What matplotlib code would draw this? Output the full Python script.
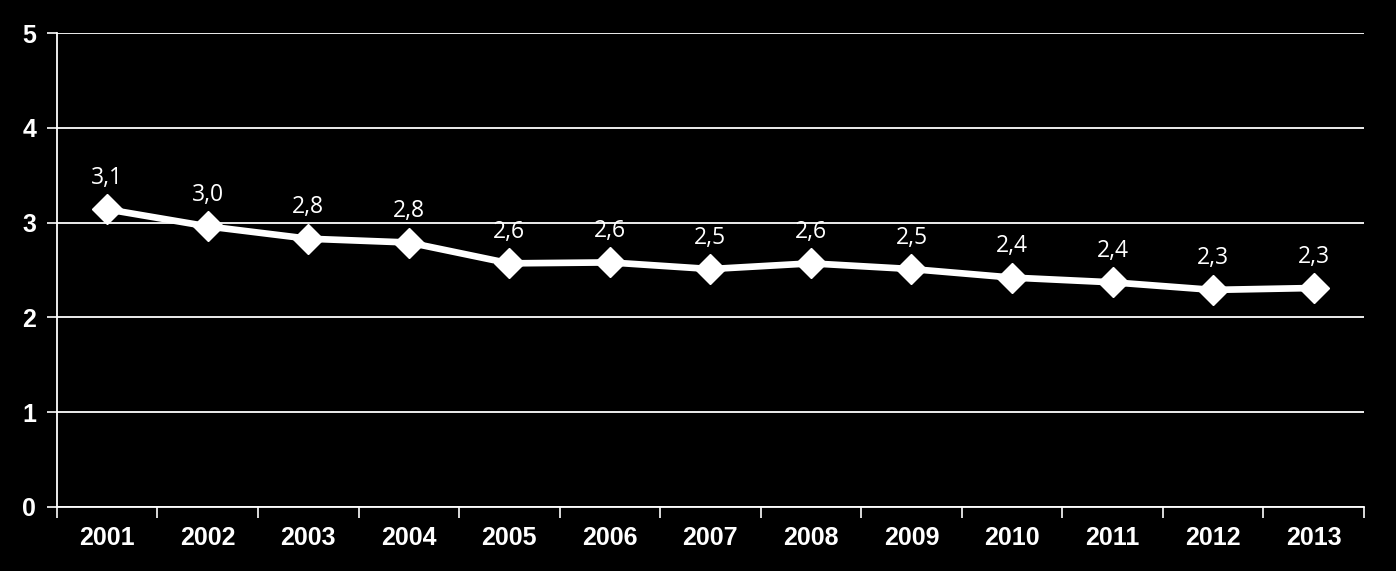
import numpy as np
import matplotlib.pyplot as plt
from matplotlib.ticker import FixedLocator

years = ['2001', '2002', '2003', '2004', '2005', '2006', '2007',
         '2008', '2009', '2010', '2011', '2012', '2013']
values = [3.14, 2.96, 2.83, 2.79, 2.57, 2.58, 2.51, 2.57, 2.51, 2.42, 2.37, 2.29, 2.31]

fig = plt.figure(figsize=(13.96, 5.71), dpi=100, facecolor='black')
ax = fig.add_axes([0.0408, 0.1121, 0.9362, 0.8301], facecolor='black')

x = np.arange(len(years))
ax.plot(x, values, color='white', linewidth=4.8, marker='D', markersize=15,
        markerfacecolor='white', markeredgecolor='white', zorder=3)

for xi, v in zip(x, values):
    ax.annotate(f"{v:.1f}".replace('.', ','), (xi, v), xytext=(0, 14),
                textcoords='offset points', ha='center', va='bottom',
                color='white', fontsize=16.5, family='Open Sans')

ax.set_xlim(-0.5, len(years) - 0.5)
ax.set_ylim(0, 5)
ax.set_yticks(range(6))
ax.set_xticks(x)
ax.set_xticklabels(years)
ax.xaxis.set_minor_locator(FixedLocator(np.arange(-0.5, len(years), 1)))
ax.tick_params(axis='x', which='major', length=0, pad=14, colors='white',
               labelsize=18)
ax.tick_params(axis='x', which='minor', length=8, width=1.2, color='white')
ax.tick_params(axis='y', length=7, width=1.2, color='white', labelcolor='white',
               labelsize=18, pad=8)
for lbl in ax.get_xticklabels() + ax.get_yticklabels():
    lbl.set_fontweight('bold')
    lbl.set_family('Liberation Sans')

ax.grid(axis='y', color='white', linewidth=1.3)
ax.set_axisbelow(True)
for side in ['top', 'right']:
    ax.spines[side].set_visible(False)
for side in ['left', 'bottom']:
    ax.spines[side].set_color('white')
    ax.spines[side].set_linewidth(1.3)

fig.savefig('out.png', dpi=100, facecolor='black')
